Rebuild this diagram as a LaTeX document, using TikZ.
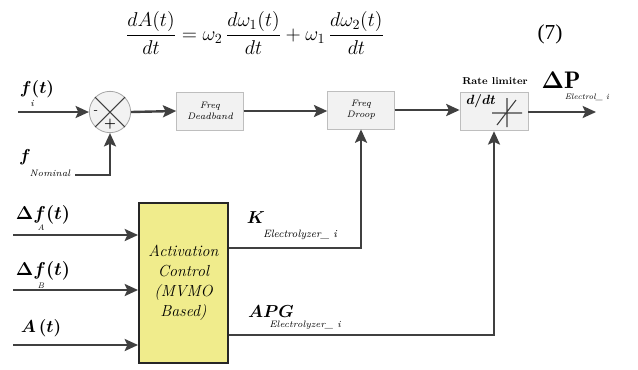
\documentclass[tikz,border=0pt]{standalone}
\usepackage{fix-cm}
\usepackage{amsmath}
\usepackage{amssymb}
\usepackage{bm}
\usepackage{fontspec}
\newfontfamily\timesfont{Liberation Serif}
\usetikzlibrary{arrows.meta}

\definecolor{lineclr}{RGB}{64,64,64}
\definecolor{boxfill}{RGB}{242,242,242}
\definecolor{boxedge}{RGB}{190,190,190}
\definecolor{actfill}{RGB}{240,236,140}

\tikzset{
  sig/.style={draw=lineclr, line width=1.8pt, -{Stealth[length=10pt,width=9pt,inset=2pt]}},
  wire/.style={draw=lineclr, line width=1.8pt},
  blk/.style={draw=boxedge, fill=boxfill, line width=0.6pt, minimum width=50pt, minimum height=28.5pt, inner sep=0pt, align=center, font=\fontsize{7}{8}\selectfont\itshape},
  lbl/.style={inner sep=0pt, font=\fontsize{13}{15}\selectfont},
  subtxt/.style={inner sep=0pt, font=\fontsize{7}{8}\selectfont\itshape},
}

\begin{document}
\begin{tikzpicture}[x=0.75pt,y=0.75pt,yscale=-1,xscale=1]
\useasboundingbox (0,0) rectangle (638,369);

% Equation
\node (eq) at (255,33) [inner sep=0pt, font=\fontsize{15}{18}\selectfont] {$\displaystyle \frac{dA(t)}{dt}=\omega_2\,\frac{d\omega_1(t)}{dt}+\omega_1\,\frac{d\omega_2(t)}{dt}$};
\node (eqno) at (550,34) [inner sep=0pt, font=\fontsize{16}{19}\selectfont\timesfont] {(7)};

% Blocks
\node (sum) at (110,112) [circle, draw=gray!70, fill=boxfill, line width=0.6pt, minimum size=31pt, inner sep=0pt] {};
\draw [lineclr, line width=0.8pt] (sum.north west) -- (sum.south east) (sum.north east) -- (sum.south west);
\node (minus) at ([xshift=-10.5pt]sum.center) [inner sep=0pt, font=\fontsize{9}{10}\selectfont] {-};
\node (plus) at ([yshift=9pt]sum.center) [inner sep=0pt, font=\fontsize{10}{10}\selectfont\bfseries] {+};
\node (dead) at (210,111) [blk] {Freq\\Deadband};
\node (droop) at (361,110) [blk] {Freq\\Droop};
\node (rate) at (494,111.5) [blk, minimum width=51pt, minimum height=29pt] {};
\node (act) at (183.5,283) [draw=black!85, fill=actfill, line width=1.2pt, minimum width=67pt, minimum height=120pt, inner sep=0pt, align=center, font=\fontsize{12}{15}\selectfont\itshape] {Activation\\Control\\(MVMO\\Based)};

% Rate limiter symbol
\node (ddt) at (481,101) [inner sep=0pt, font=\fontsize{10}{12}\selectfont] {$\bm{d/dt}$};
\draw [lineclr, line width=0.8pt] (492,113) -- (522,113) (507,98) -- (507,127) (497,125) -- (516,100);
\node (ratetxt) at (495,81) [inner sep=0pt, font=\fontsize{7.5}{9}\selectfont\bfseries] {Rate limiter};

% Coordinates
\coordinate (fin) at (18,112);
\coordinate (nomend) at (75,175);
\coordinate (pout) at (596,112);
\coordinate (ina) at (13,235);
\coordinate (inb) at (13,290);
\coordinate (inc) at (13,345);
\coordinate (kp) at (0,248);
\coordinate (apgp) at (0,335);

% Connectors
\draw [sig] (fin) -- (sum.west);
\draw [sig] (nomend) -| (sum.south);
\draw [sig] (sum.east) -- (dead.west);
\draw [sig] (dead.east) -- (droop.west |- dead.east);
\draw [sig] (droop.east) -- (rate.west |- droop.east);
\draw [sig] (rate.east |- pout) -- (pout);
\draw [sig] (ina) -- (act.west |- ina);
\draw [sig] (inb) -- (act.west |- inb);
\draw [sig] (inc) -- (act.west |- inc);
\draw [sig] (act.east |- kp) -| (droop.south);
\draw [sig] (act.east |- apgp) -| (rate.south);

% Text Node
\node (flbl) at (37,89) [lbl] {$\bm{f(t)}$};
\node (fsub) at (32,103) [subtxt] {i};
\node (fnom) at (25,157) [lbl] {$\bm{f}$};
\node (nomsub) at (50,173) [subtxt] {Nominal};
\node (dplbl) at (561,80) [inner sep=0pt, font=\fontsize{18}{20}\selectfont] {$\bm{\Delta}\mathbf{P}$};
\node (dpsub) at (587,97) [subtxt, font=\fontsize{6}{7}\selectfont\itshape] {Electrol\_ i};
\node (dfa) at (43,215) [lbl, font=\fontsize{14}{16}\selectfont] {$\bm{\Delta f(t)}$};
\node (dfasub) at (41,228) [subtxt, font=\fontsize{6}{7}\selectfont\itshape] {A};
\node (dfb) at (43,271) [lbl, font=\fontsize{14}{16}\selectfont] {$\bm{\Delta f(t)}$};
\node (dfbsub) at (41,286) [subtxt, font=\fontsize{6}{7}\selectfont\itshape] {B};
\node (alb) at (41,328) [lbl] {$\bm{A\,(t)}$};
\node (klbl) at (256,218) [lbl] {$\bm{K}$};
\node (ksub) at (300,235) [subtxt, font=\fontsize{8}{9}\selectfont\itshape] {Electrolyzer\_ i};
\node (apglbl) at (271,312) [lbl] {$\bm{APG}$};
\node (apgsub) at (305,325) [subtxt, font=\fontsize{7}{8}\selectfont\itshape] {Electrolyzer\_ i};

\end{tikzpicture}
\end{document}
